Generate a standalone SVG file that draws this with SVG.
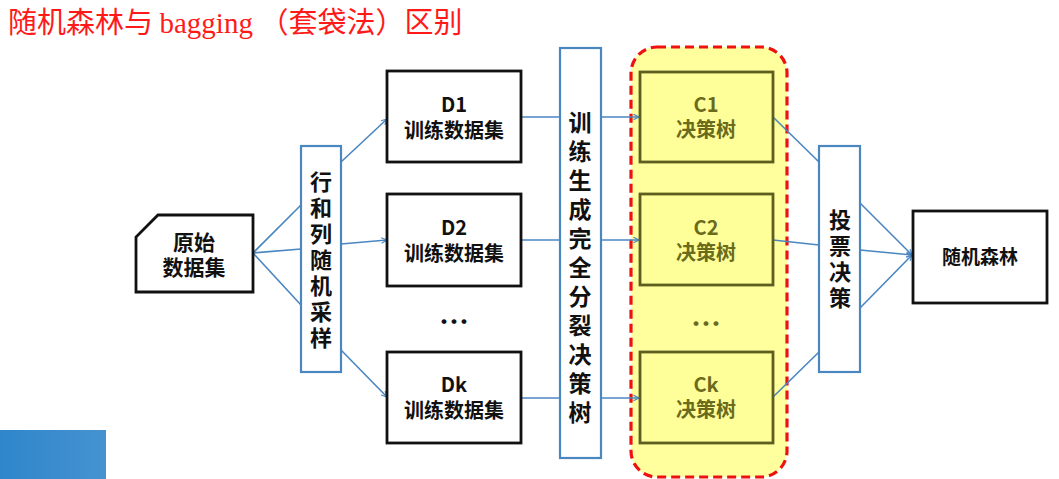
<svg xmlns="http://www.w3.org/2000/svg" width="1059" height="479" viewBox="0 0 1059 479">
<defs>
<marker id="arr" viewBox="0 0 10 10" refX="9" refY="5" markerWidth="7" markerHeight="7" orient="auto" markerUnits="userSpaceOnUse">
<path d="M1,1 L9,5 L1,9" fill="none" stroke="#4a86c0" stroke-width="1.6"/>
</marker>
<linearGradient id="bar" x1="0" y1="0" x2="1" y2="0">
<stop offset="0" stop-color="#2f86cb"/>
<stop offset="1" stop-color="#4592d0"/>
</linearGradient>
</defs>
<style>
.t{font-family:"Noto Sans CJK SC","Liberation Sans",sans-serif;font-weight:bold;fill:#111;text-anchor:middle}
.bx{fill:#fff;stroke:#111;stroke-width:2.8}
.bl{fill:#fff;stroke:#4a86c0;stroke-width:2.2}
.cb{fill:#ffff99;stroke:#5e5e1e;stroke-width:2.8}
.ct{font-family:"Noto Sans CJK SC","Liberation Sans",sans-serif;font-weight:bold;fill:#6b6b1c;text-anchor:middle}
.ln{stroke:#4a86c0;stroke-width:1.6;fill:none}
</style>
<rect width="1059" height="479" fill="#fff"/>
<text x="8" y="33" font-family="'Noto Sans CJK SC','Liberation Serif',serif" font-size="29" fill="#ff1a1a">随机森林与 <tspan font-family="'Liberation Serif',serif">bagging</tspan> （套袋法）区别</text>
<rect x="0" y="430" width="106" height="49" fill="url(#bar)"/>

<g id="group">
<rect x="631" y="47" width="156" height="430" rx="26" fill="#ffff9e" stroke="#ee1111" stroke-width="3.2" stroke-dasharray="9,5"/>
</g>

<g id="connectors">
<line class="ln" x1="253" y1="253" x2="301" y2="205"/>
<line class="ln" x1="253" y1="253" x2="301" y2="249"/>
<line class="ln" x1="253" y1="253" x2="301" y2="305"/>
<line class="ln" x1="341" y1="162" x2="387" y2="119" marker-end="url(#arr)"/>
<line class="ln" x1="341" y1="244" x2="387" y2="240" marker-end="url(#arr)"/>
<line class="ln" x1="341" y1="350" x2="387" y2="397" marker-end="url(#arr)"/>
<line class="ln" x1="521" y1="117" x2="560" y2="117"/>
<line class="ln" x1="521" y1="240" x2="560" y2="240"/>
<line class="ln" x1="521" y1="398" x2="560" y2="398"/>
<line class="ln" x1="601" y1="117" x2="639" y2="117" marker-end="url(#arr)"/>
<line class="ln" x1="601" y1="240" x2="639" y2="240" marker-end="url(#arr)"/>
<line class="ln" x1="601" y1="398" x2="639" y2="398" marker-end="url(#arr)"/>
<line class="ln" x1="773" y1="117" x2="819" y2="162"/>
<line class="ln" x1="773" y1="240" x2="819" y2="245"/>
<line class="ln" x1="773" y1="397" x2="819" y2="352"/>
<line class="ln" x1="860" y1="203" x2="912" y2="255" marker-end="url(#arr)"/>
<line class="ln" x1="860" y1="250" x2="912" y2="255" marker-end="url(#arr)"/>
<line class="ln" x1="860" y1="308" x2="912" y2="255" marker-end="url(#arr)"/>
</g>

<g id="raw">
<path class="bx" d="M158,215 L253,215 L253,292 L136,292 L136,237 Z"/>
<text class="t" x="194" y="250" font-size="21">原始</text>
<text class="t" x="194" y="275" font-size="21">数据集</text>
</g>

<g id="sampling">
<rect class="bl" x="301" y="146" width="40" height="226"/>
<text class="t" font-size="22">
<tspan x="321" y="190">行</tspan><tspan x="321" y="216">和</tspan><tspan x="321" y="242">列</tspan><tspan x="321" y="268">随</tspan><tspan x="321" y="294">机</tspan><tspan x="321" y="320">采</tspan><tspan x="321" y="346">样</tspan>
</text>
</g>

<g id="d1">
<rect class="bx" x="387" y="71" width="134" height="91"/>
<text class="t" x="454" y="112" font-size="20">D1</text>
<text class="t" x="454" y="138" font-size="20">训练数据集</text>
</g>
<g id="d2">
<rect class="bx" x="387" y="194" width="134" height="92"/>
<text class="t" x="454" y="235" font-size="20">D2</text>
<text class="t" x="454" y="261" font-size="20">训练数据集</text>
</g>
<text class="t" x="454" y="333" font-size="30">…</text>
<g id="dk">
<rect class="bx" x="387" y="352" width="134" height="91"/>
<text class="t" x="454" y="392" font-size="20">Dk</text>
<text class="t" x="454" y="418" font-size="20">训练数据集</text>
</g>

<g id="train">
<rect class="bl" x="560" y="48" width="41" height="410"/>
<text class="t" font-size="23">
<tspan x="580" y="131">训</tspan><tspan x="580" y="160">练</tspan><tspan x="580" y="189">生</tspan><tspan x="580" y="218">成</tspan><tspan x="580" y="247">完</tspan><tspan x="580" y="276">全</tspan><tspan x="580" y="305">分</tspan><tspan x="580" y="334">裂</tspan><tspan x="580" y="363">决</tspan><tspan x="580" y="392">策</tspan><tspan x="580" y="421">树</tspan>
</text>
</g>

<g id="c1">
<rect class="cb" x="640" y="72" width="133" height="90"/>
<text class="ct" x="706" y="112" font-size="20">C1</text>
<text class="ct" x="706" y="137" font-size="20">决策树</text>
</g>
<g id="c2">
<rect class="cb" x="640" y="194" width="133" height="91"/>
<text class="ct" x="706" y="235" font-size="20">C2</text>
<text class="ct" x="706" y="260" font-size="20">决策树</text>
</g>
<text class="ct" x="706" y="335" font-size="30">…</text>
<g id="ck">
<rect class="cb" x="640" y="352" width="133" height="91"/>
<text class="ct" x="706" y="392" font-size="20">Ck</text>
<text class="ct" x="706" y="417" font-size="20">决策树</text>
</g>

<g id="vote">
<rect class="bl" x="819" y="146" width="41" height="226"/>
<text class="t" font-size="22">
<tspan x="840" y="228">投</tspan><tspan x="840" y="254">票</tspan><tspan x="840" y="280">决</tspan><tspan x="840" y="306">策</tspan>
</text>
</g>

<g id="rf">
<rect class="bx" x="913" y="211" width="134" height="92"/>
<text class="t" x="980" y="264" font-size="19">随机森林</text>
</g>
</svg>
